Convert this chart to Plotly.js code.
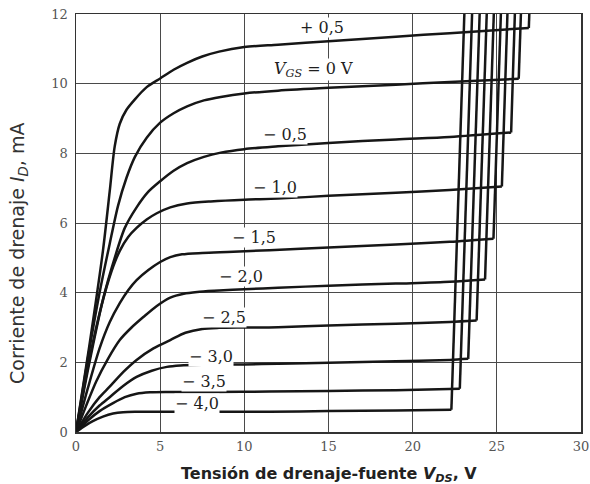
<!DOCTYPE html>
<html>
<head>
<meta charset="utf-8">
<script src="https://cdn.plot.ly/plotly-3.0.1.min.js"></script>
<style>html,body{margin:0;padding:0;background:#fff;}#chart{width:590px;height:484px;}</style>
</head>
<body>
<div id="chart"></div>
<script>
// Gate-source voltage labels (one per curve)
const vgsText = ["+ 0,5", "<i>V<sub>GS</sub></i> = 0 V", "− 0,5", "− 1,0", "− 1,5", "− 2,0", "− 2,5", "− 3,0", "− 3,5", "− 4,0"];

// Drain characteristic curves (V_DS in V, I_D in mA)
const vds_p05 = [0, 0.8, 1.6, 2.0, 2.3, 2.6, 3.0, 3.5, 4.2, 5.0, 5.8, 6.6, 7.5, 8.5, 10, 12, 15, 19, 22.2, 26.9];
const id_p05  = [0, 2.5, 5.2, 6.9, 8.2, 8.85, 9.25, 9.55, 9.9, 10.15, 10.4, 10.6, 10.78, 10.92, 11.05, 11.12, 11.22, 11.35, 11.45, 11.6];
const vds_0   = [0, 0.7, 1.4, 2.0, 2.5, 3.0, 3.5, 4.2, 5.0, 5.8, 6.6, 7.6, 8.6, 10, 12, 15, 19, 22.2, 26.3];
const id_0    = [0, 2.1, 4.0, 5.4, 6.5, 7.3, 7.9, 8.45, 8.88, 9.15, 9.35, 9.52, 9.62, 9.72, 9.8, 9.88, 9.97, 10.05, 10.14];
const vds_m05 = [0, 0.8, 1.6, 2.3, 2.9, 3.6, 4.3, 5.0, 5.8, 6.6, 7.6, 8.6, 10, 12, 15, 19, 22.2, 25.85];
const id_m05  = [0, 2.0, 3.8, 5.0, 5.86, 6.45, 6.9, 7.2, 7.5, 7.72, 7.9, 8.02, 8.12, 8.2, 8.3, 8.4, 8.47, 8.6];
const vds_m10 = [0, 0.8, 1.5, 2.1, 2.6, 3.1, 3.6, 4.2, 4.8, 5.6, 6.6, 8, 10, 12, 15, 19, 22.2, 25.3];
const id_m10  = [0, 2.1, 3.6, 4.6, 5.2, 5.6, 5.86, 6.1, 6.28, 6.45, 6.56, 6.62, 6.67, 6.7, 6.78, 6.87, 6.95, 7.05];
const vds_m15 = [0, 0.7, 1.4, 2.0, 2.6, 3.1, 3.6, 4.3, 5.0, 5.6, 6.3, 7.5, 9, 11.5, 15, 19, 22.2, 24.8];
const id_m15  = [0, 1.25, 2.4, 3.15, 3.7, 4.07, 4.36, 4.65, 4.88, 5.02, 5.1, 5.14, 5.17, 5.22, 5.3, 5.38, 5.46, 5.55];
const vds_m20 = [0, 0.6, 1.2, 1.9, 2.6, 3.3, 4.0, 4.8, 5.6, 6.4, 7.2, 8.5, 10, 12, 15, 19, 22.2, 24.3];
const id_m20  = [0, 0.75, 1.45, 2.1, 2.64, 3.0, 3.3, 3.62, 3.86, 3.97, 4.02, 4.06, 4.1, 4.14, 4.2, 4.26, 4.31, 4.38];
const vds_m25 = [0, 0.7, 1.4, 2.0, 2.8, 3.6, 4.6, 5.6, 6.5, 7.5, 8.5, 10, 12, 15, 19, 22.2, 23.8];
const id_m25  = [0, 0.55, 1.0, 1.3, 1.72, 2.07, 2.4, 2.64, 2.85, 2.96, 2.99, 3.0, 3.01, 3.06, 3.11, 3.16, 3.2];
const vds_m30 = [0, 0.7, 1.4, 2.0, 2.8, 3.6, 4.5, 5.4, 6.2, 7.5, 10, 12, 15, 19, 22.2, 23.3];
const id_m30  = [0, 0.42, 0.76, 1.0, 1.32, 1.58, 1.76, 1.87, 1.91, 1.93, 1.94, 1.96, 1.99, 2.03, 2.07, 2.1];
const vds_m35 = [0, 0.7, 1.4, 2.2, 2.9, 3.6, 4.4, 5.5, 8, 11.5, 15, 19, 22.8];
const id_m35  = [0, 0.33, 0.6, 0.83, 1.0, 1.1, 1.14, 1.15, 1.15, 1.16, 1.18, 1.2, 1.24];
const vds_m40 = [0, 0.5, 1.0, 1.6, 2.2, 2.8, 3.6, 5, 8, 11.5, 15, 19, 22.3];
const id_m40  = [0, 0.17, 0.31, 0.44, 0.53, 0.57, 0.58, 0.58, 0.58, 0.58, 0.6, 0.62, 0.64];

// Breakdown: the curve turns upward at (vBreak, iBreak) and reaches the top (vTop, iTop)
const vBreak = [26.9, 26.3, 25.85, 25.3, 24.8, 24.3, 23.8, 23.3, 22.8, 22.3];
const iBreak = [11.6, 10.14, 8.6, 7.05, 5.55, 4.38, 3.2, 2.1, 1.24, 0.64];
const vTop   = [26.93, 26.43, 26.07, 25.63, 25.24, 24.82, 24.4, 23.98, 23.53, 23.07];
const iTop   = [12, 12, 12, 12, 12, 12, 12, 12, 12, 12];

// Axis ticks
const xTicks = [0, 5, 10, 15, 20, 25, 30];
const yTicks = [0, 2, 4, 6, 8, 10, 12];

// Label anchor positions (data coords)
const labelX = [14.6, 14.1, 12.4, 11.8, 10.6, 9.8, 8.8, 8.0, 7.6, 7.2];
const labelY = [11.6, 10.4, 8.53, 7.03, 5.57, 4.45, 3.3, 2.18, 1.44, 0.83];

const curvesX = [vds_p05, vds_0, vds_m05, vds_m10, vds_m15, vds_m20, vds_m25, vds_m30, vds_m35, vds_m40];
const curvesY = [id_p05, id_0, id_m05, id_m10, id_m15, id_m20, id_m25, id_m30, id_m35, id_m40];

const lineStyle = {color: '#161616', width: 2.5};
const traces = [];
for (let i = 0; i < curvesX.length; i++) {
  traces.push({x: curvesX[i], y: curvesY[i], type: 'scatter', mode: 'lines',
    line: Object.assign({shape: 'spline', smoothing: 0.8}, lineStyle), hoverinfo: 'skip', showlegend: false});
  traces.push({x: [vBreak[i], vTop[i]], y: [iBreak[i], iTop[i]], type: 'scatter', mode: 'lines',
    line: Object.assign({shape: 'linear'}, lineStyle), hoverinfo: 'skip', showlegend: false});
}

const annotations = vgsText.map((t, i) => ({
  x: labelX[i], y: labelY[i], xref: 'x', yref: 'y', text: t, showarrow: false,
  font: {family: 'DejaVu Serif, serif', size: 16, color: '#1e1e1e'},
  bgcolor: 'rgba(255,255,255,1)', borderpad: 0
}));
annotations.push({
  xref: 'paper', yref: 'paper', x: 0.5, y: 0, yshift: -42, xanchor: 'center', yanchor: 'middle',
  text: 'Tensión de drenaje-fuente <i>V<sub>DS</sub></i>, V', showarrow: false,
  font: {family: 'DejaVu Sans, sans-serif', size: 16, color: '#222', weight: 'bold'}
});
annotations.push({
  xref: 'paper', yref: 'paper', x: 0, xshift: -58, y: 0.5, yshift: -31, xanchor: 'center', yanchor: 'middle',
  textangle: -90, text: 'Corriente de drenaje <i>I<sub>D</sub></i>, mA', showarrow: false,
  font: {family: 'DejaVu Sans, sans-serif', size: 19, color: '#333'}
});

const axisCommon = {
  showgrid: true, gridcolor: '#4a4a4a', gridwidth: 1, zeroline: false,
  showline: true, linecolor: '#333', linewidth: 1.5, mirror: true,
  ticks: '', tickfont: {family: 'DejaVu Serif, serif', size: 13, color: '#555'},
  fixedrange: true
};

const layout = {
  width: 590, height: 484,
  margin: {l: 76, r: 9, t: 14, b: 52},
  paper_bgcolor: '#fff', plot_bgcolor: '#fff',
  showlegend: false,
  xaxis: Object.assign({}, axisCommon, {range: [0, 30], tickvals: xTicks, ticktext: xTicks.map(String), ticklabelstandoff: 2}),
  yaxis: Object.assign({}, axisCommon, {range: [0, 12], tickvals: yTicks, ticktext: yTicks.map(String), ticklabelstandoff: 4}),
  annotations: annotations
};

Plotly.newPlot('chart', traces, layout, {displayModeBar: false, staticPlot: true});
</script>
</body>
</html>
